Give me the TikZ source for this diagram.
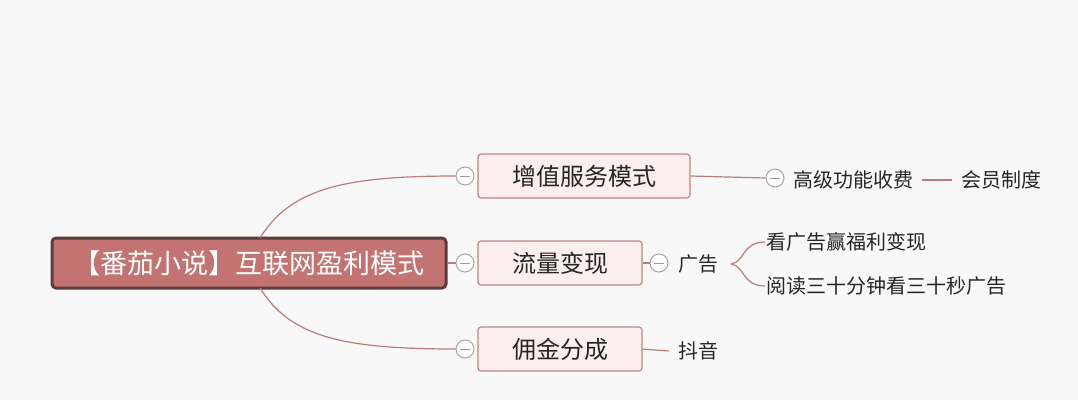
\documentclass[tikz,border=0pt]{standalone}
\usepackage{fontspec}
\usetikzlibrary{calc}
\newfontfamily\cjk{Noto Sans CJK SC}
\definecolor{bg}{HTML}{F8F8F8}
\definecolor{rootf}{HTML}{C47373}
\definecolor{rootd}{HTML}{5E3B3B}
\definecolor{lf}{HTML}{FBEEEE}
\definecolor{ld}{HTML}{C08484}
\definecolor{ln}{HTML}{B97C7C}
\begin{document}
\begin{tikzpicture}[x=1pt,y=-1pt,
 root/.style={draw=rootd,line width=3pt,fill=rootf,rounded corners=4pt,text=white,minimum width=394pt,minimum height=50pt,font=\cjk\fontsize{27}{30}\selectfont},
 lvl/.style={draw=ld,line width=1.2pt,fill=lf,rounded corners=3pt,minimum height=44pt,font=\cjk\fontsize{24}{28}\selectfont,text=black!85},
 leaf/.style={font=\cjk\fontsize{20}{24}\selectfont,text=black!85,inner sep=1pt},
 col/.style={draw=gray!70,fill=white,line width=1pt,circle,minimum size=18pt,inner sep=0pt,path picture={\draw[gray!80,line width=1pt](path picture bounding box.west)++(4pt,0)--++(10pt,0);}},
 conn/.style={draw=ln,line width=1.2pt}]
\fill[bg](0,0)rectangle(1078,400);
\useasboundingbox(0,0)rectangle(1078,400);
\node[root](r) at (249,263){【番茄小说】互联网盈利模式};
\node[lvl,minimum width=212pt](a) at (584,176){增值服务模式};
\node[lvl,minimum width=164pt](b) at (560,263){流量变现};
\node[lvl,minimum width=164pt](c) at (560,349){佣金分成};
\node[col](ca) at (465,176){};
\node[col](cb) at (465,263){};
\node[col](cc) at (465,349){};
\coordinate (rt) at (260,238);
\coordinate (rb) at (260,288);
\draw[conn](rt) .. controls (290,190) and (340,176) .. (ca.west);
\draw[conn](rb) .. controls (290,336) and (340,349) .. (cc.west);
\draw[conn](r.east)--(cb.west);
\node[col](ca2) at (775,178){};
\draw[conn](a.east)--(ca2.west);
\node[leaf,anchor=west](a1) at (792,180){高级功能收费};
\node[leaf,anchor=west](a2) at (960,180){会员制度};
\draw[conn]($(a1.east)+(8,0)$)--($(a2.west)+(-8,0)$);
\node[col](cb2) at (659,263){};
\draw[conn](b.east)--(cb2.west);
\node[leaf,anchor=west](b1) at (677,264){广告};
\node[leaf,anchor=west](b11) at (765,242){看广告赢福利变现};
\node[leaf,anchor=west](b12) at (765,286){阅读三十分钟看三十秒广告};
\coordinate (br) at (731,264);
\draw[conn](br) .. controls (745,262) and (742,242) .. (b11.west);
\draw[conn](br) .. controls (745,266) and (742,286) .. (b12.west);
\node[leaf,anchor=west](c1) at (677,351){抖音};
\draw[conn](c.east)--($(c1.west)+(-8,0)$);
\end{tikzpicture}
\end{document}
